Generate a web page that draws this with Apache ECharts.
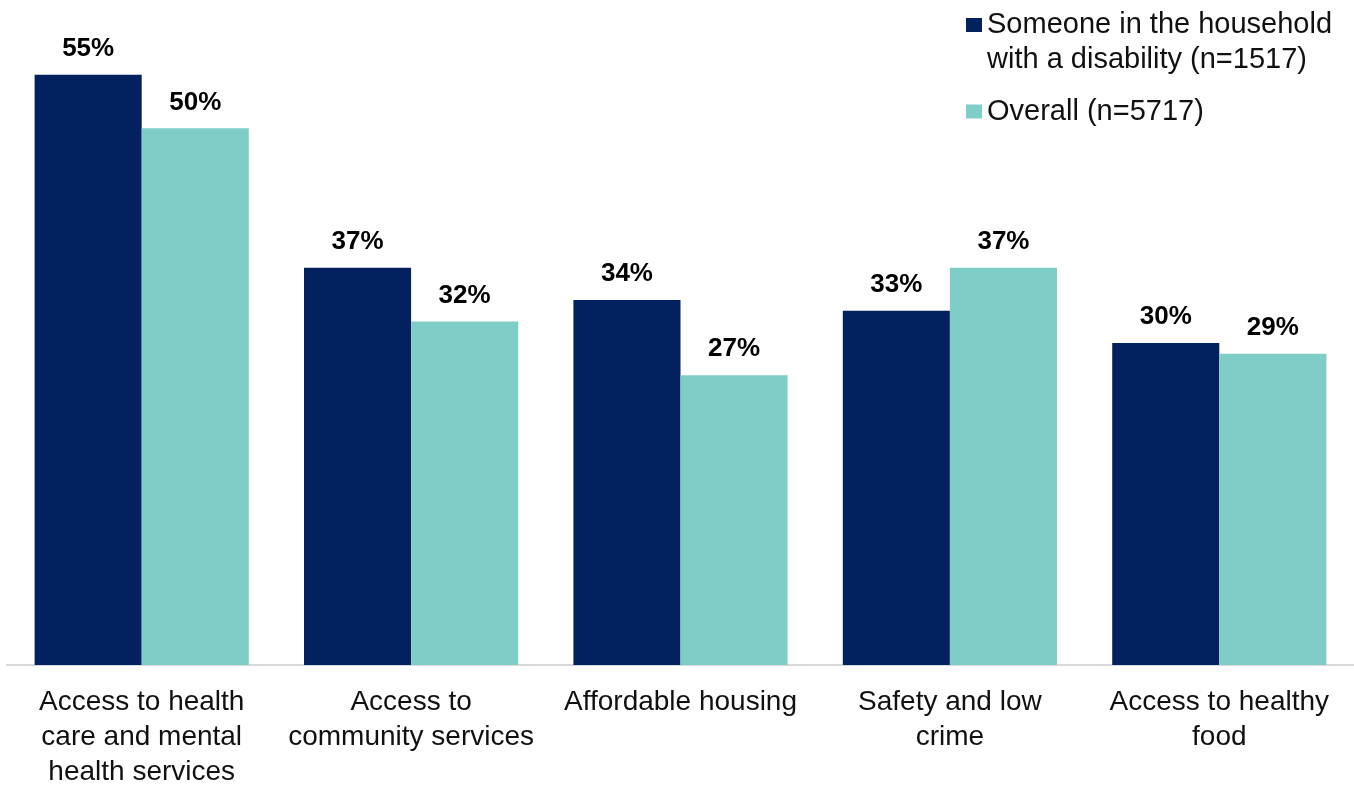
<!DOCTYPE html>
<html>
<head>
<meta charset="utf-8">
<style>
  html, body { margin: 0; padding: 0; background: #ffffff; }
  #chart { width: 1354px; height: 790px; }
</style>
<script src="https://cdn.jsdelivr.net/npm/echarts@6/dist/echarts.min.js"></script>
</head>
<body>
<div id="chart"></div>
<script>
// Community priorities, by household type (percent)
const categories = [
  'Access to health\ncare and mental\nhealth services',
  'Access to\ncommunity services',
  'Affordable housing',
  'Safety and low\ncrime',
  'Access to healthy\nfood'
];
const disabilityName = 'Someone in the household with a disability (n=1517)';
const overallName = 'Overall (n=5717)';
const disabilityValues = [55, 37, 34, 33, 30];
const overallValues = [50, 32, 27, 37, 29];

const NAVY = '#03215E';
const TEAL = '#7ECDC6';
const FONT = '"Liberation Sans", Arial, Helvetica, sans-serif';

const chart = echarts.init(document.getElementById('chart'), null, { renderer: 'canvas' });

const valueLabel = {
  show: true,
  position: 'top',
  distance: 13,
  formatter: '{c}%',
  color: '#000000',
  fontFamily: FONT,
  fontWeight: 'bold',
  fontSize: 26
};

chart.setOption({
  backgroundColor: '#ffffff',
  animation: false,
  textStyle: { fontFamily: FONT },
  legend: [
    {
      data: [disabilityName],
      orient: 'vertical',
      left: 966,
      top: -27.5,
      padding: 0,
      itemWidth: 16,
      itemHeight: 14,
      icon: 'rect',
      // leading blank line keeps the marker level with the first text line
      formatter: () => '\nSomeone in the household\nwith a disability (n=1517)',
      textStyle: { fontFamily: FONT, fontSize: 29, lineHeight: 35, color: '#111111' }
    },
    {
      data: [overallName],
      orient: 'vertical',
      left: 966,
      top: 94,
      padding: 0,
      itemWidth: 16,
      itemHeight: 14,
      icon: 'rect',
      textStyle: { fontFamily: FONT, fontSize: 29, lineHeight: 35, color: '#111111' }
    }
  ],
  grid: { left: 7, right: 0, top: 21, bottom: 121, containLabel: false },
  xAxis: {
    type: 'category',
    data: categories,
    axisLine: { show: true, lineStyle: { color: '#D9D9D9', width: 2 } },
    axisTick: { show: false },
    axisLabel: {
      interval: 0,
      margin: 20,
      color: '#111111',
      fontFamily: FONT,
      fontSize: 28,
      lineHeight: 35,
      align: 'center'
    }
  },
  yAxis: {
    type: 'value',
    min: 0,
    max: 60,
    show: false,
    splitLine: { show: false }
  },
  series: [
    {
      name: disabilityName,
      type: 'bar',
      data: disabilityValues,
      barGap: '0%',
      barCategoryGap: '20.5%',
      itemStyle: { color: NAVY },
      label: valueLabel
    },
    {
      name: overallName,
      type: 'bar',
      data: overallValues,
      barGap: '0%',
      barCategoryGap: '20.5%',
      itemStyle: { color: TEAL },
      label: valueLabel
    }
  ]
});
</script>
</body>
</html>
